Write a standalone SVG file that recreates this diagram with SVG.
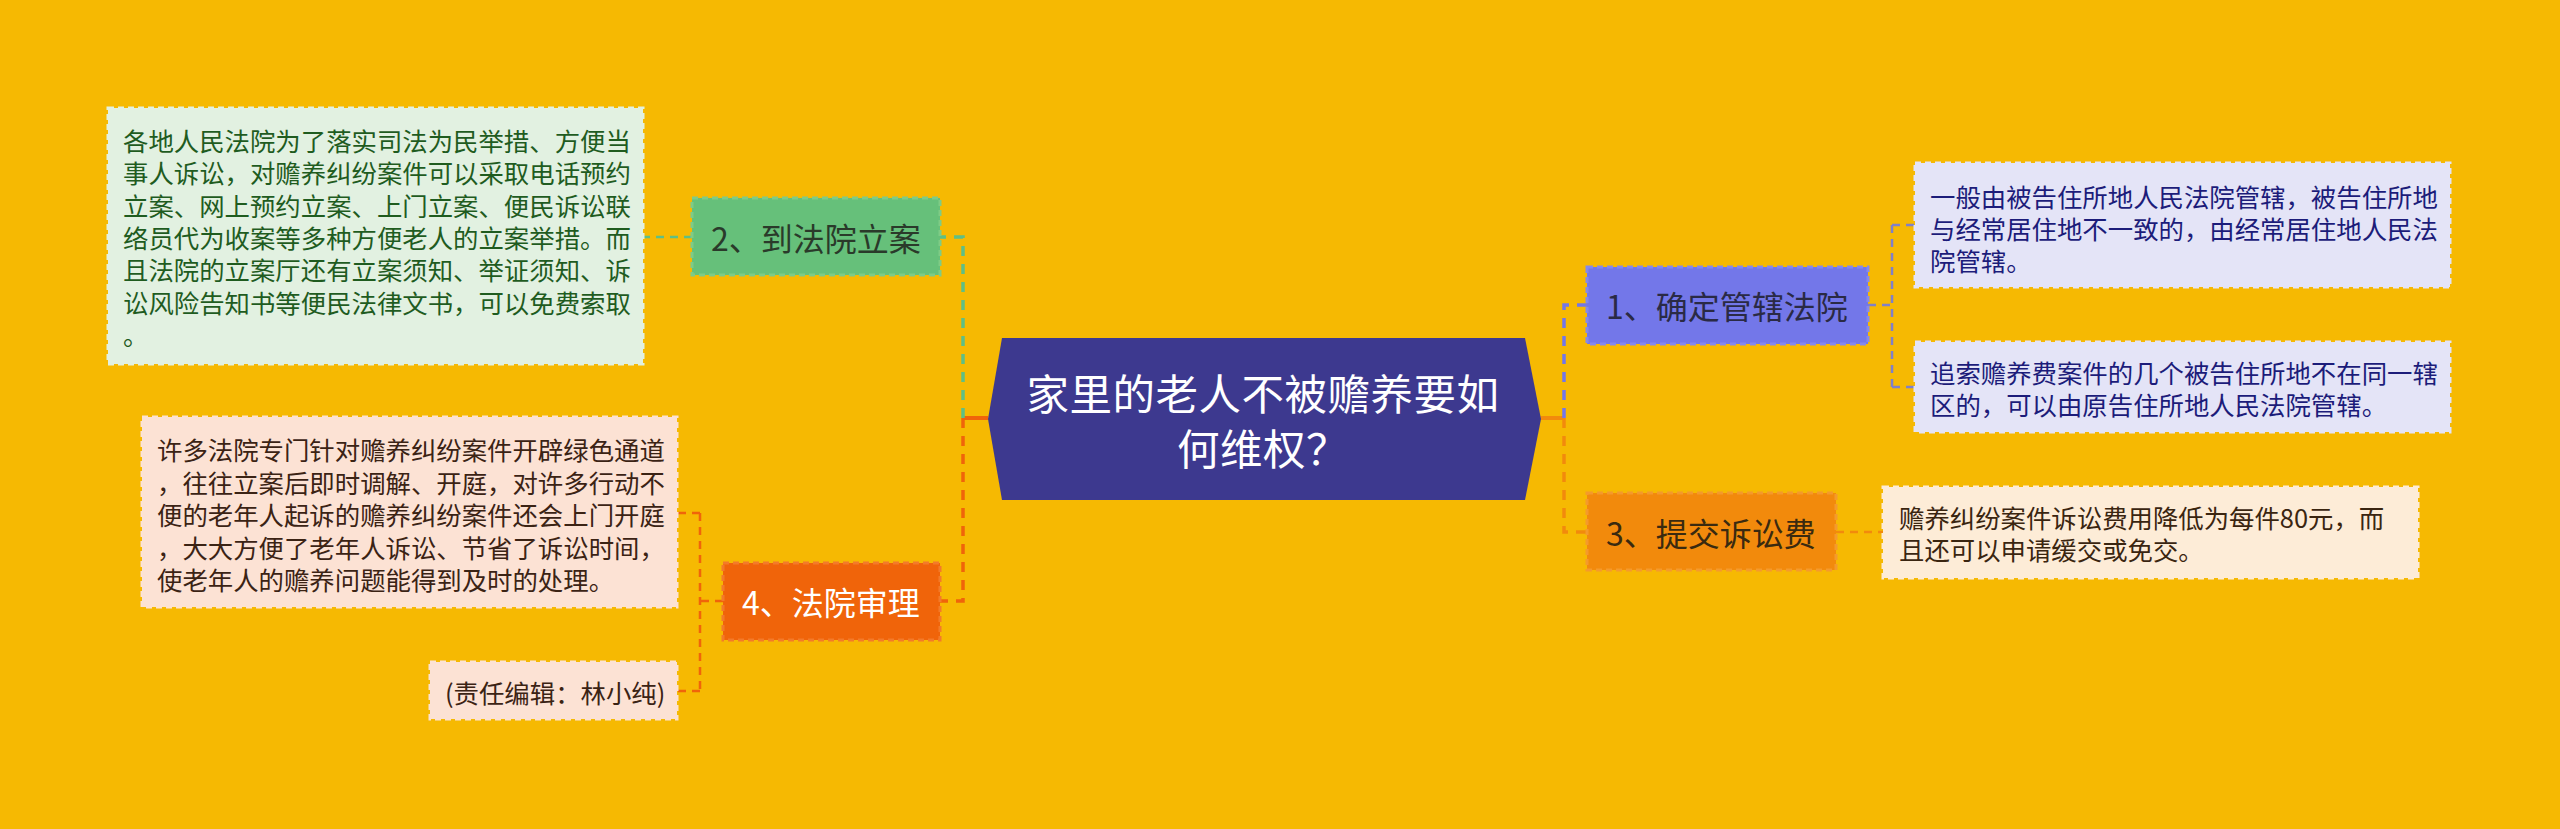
<svg xmlns="http://www.w3.org/2000/svg" width="2560" height="829" viewBox="0 0 2560 829">
<style>
text{font-family:"Noto Sans CJK SC","Noto Sans",sans-serif;dominant-baseline:central}
.box{font-size:25.4px}
.node{font-size:32px;text-anchor:middle}
.c{fill:none;stroke-width:3.5;stroke-dasharray:10 8}
.t{fill:none;stroke-width:2.5;stroke-dasharray:8 6}
.s{fill:none;stroke-width:4}
.bd{stroke-width:3;stroke-dasharray:6 4}
</style>
<rect width="2560" height="829" fill="#F6B902"/>
<g id="connectors">
<path class="s" d="M963,418 H988" stroke="#F0640A"/>
<path class="c" d="M963,418 V237 H940" stroke="#5FBF85"/>
<path class="c" d="M963,418 V601 H940" stroke="#F0640A"/>
<path class="t" d="M692,237 H643" stroke="#5FBF85"/>
<path class="t" d="M723,601 H700 M700,513 V691 M700,513 H677 M700,691 H677" stroke="#F0640A"/>
<path class="s" d="M1541,418 H1564" stroke="#F28A0C"/>
<path class="c" d="M1564,418 V305 H1587" stroke="#7377E9"/>
<path class="c" d="M1564,418 V532 H1587" stroke="#F28A0C"/>
<path class="t" d="M1868,305 H1892 M1892,225 V387 M1892,225 H1915 M1892,387 H1915" stroke="#8080C8"/>
<path class="t" d="M1836,532 H1883" stroke="#F28A0C"/>
</g>
<g id="center">
<polygon points="1002,338 1525,338 1541,419 1525,500 1002,500 988,419" fill="#3D398F"/>
<text x="1263" y="391" font-size="42.5" letter-spacing="0.5" text-anchor="middle" fill="#FFFFFF">家里的老人不被赡养要如</text>
<text x="1263" y="446" font-size="42.5" letter-spacing="0.5" text-anchor="middle" fill="#FFFFFF">何维权？</text>
</g>
<g id="node2">
<rect x="692" y="198" width="248" height="77" fill="#66C07A" stroke="#7FCB86" class="bd"/>
<text class="node" x="816" y="237" fill="#2A3A2A">2、到法院立案</text>
</g>
<g id="node4">
<rect x="723" y="563" width="217" height="77" fill="#F0640A" stroke="#F37A2A" class="bd"/>
<text class="node" x="831" y="601" fill="#FFFFFF">4、法院审理</text>
</g>
<g id="node1">
<rect x="1587" y="267" width="281" height="77" fill="#7377E9" stroke="#8589EC" class="bd"/>
<text class="node" x="1727" y="305" fill="#2A2A45">1、确定管辖法院</text>
</g>
<g id="node3">
<rect x="1587" y="493" width="249" height="77" fill="#F28A0C" stroke="#F49A2C" class="bd"/>
<text class="node" x="1711" y="532" fill="#3A2A10">3、提交诉讼费</text>
</g>
<g id="box1">
<rect x="108" y="108" width="535" height="256" fill="#E2F1E1" stroke="#E2F1E1" class="bd"/>
<g class="box" fill="#1F5C1F">
<text x="123" y="140">各地人民法院为了落实司法为民举措、方便当</text>
<text x="123" y="172">事人诉讼，对赡养纠纷案件可以采取电话预约</text>
<text x="123" y="205">立案、网上预约立案、上门立案、便民诉讼联</text>
<text x="123" y="237">络员代为收案等多种方便老人的立案举措。而</text>
<text x="123" y="269">且法院的立案厅还有立案须知、举证须知、诉</text>
<text x="123" y="302">讼风险告知书等便民法律文书，可以免费索取</text>
<text x="123" y="334">。</text>
</g>
</g>
<g id="box2">
<rect x="142" y="417" width="535" height="190" fill="#FCE2D4" stroke="#FCE2D4" class="bd"/>
<g class="box" fill="#3B2314">
<text x="157" y="449">许多法院专门针对赡养纠纷案件开辟绿色通道</text>
<text x="157" y="482">，往往立案后即时调解、开庭，对许多行动不</text>
<text x="157" y="514">便的老年人起诉的赡养纠纷案件还会上门开庭</text>
<text x="157" y="547">，大大方便了老年人诉讼、节省了诉讼时间，</text>
<text x="157" y="579">使老年人的赡养问题能得到及时的处理。</text>
</g>
</g>
<g id="editor">
<rect x="430" y="662" width="247" height="57" fill="#FCE2D4" stroke="#FCE2D4" class="bd"/>
<text class="box" x="445" y="692" fill="#3B2314">(责任编辑：林小纯)</text>
</g>
<g id="box_r1">
<rect x="1915" y="163" width="535" height="124" fill="#E4E4F7" stroke="#E4E4F7" class="bd"/>
<g class="box" fill="#1C1C7A">
<text x="1930" y="196">一般由被告住所地人民法院管辖，被告住所地</text>
<text x="1930" y="228">与经常居住地不一致的，由经常居住地人民法</text>
<text x="1930" y="260">院管辖。</text>
</g>
</g>
<g id="box_r2">
<rect x="1915" y="342" width="535" height="90" fill="#E4E4F7" stroke="#E4E4F7" class="bd"/>
<g class="box" fill="#1C1C7A">
<text x="1930" y="372">追索赡养费案件的几个被告住所地不在同一辖</text>
<text x="1930" y="404">区的，可以由原告住所地人民法院管辖。</text>
</g>
</g>
<g id="box_r3">
<rect x="1883" y="487" width="535" height="91" fill="#FDECD7" stroke="#FDECD7" class="bd"/>
<g class="box" fill="#3A2510">
<text x="1899" y="517">赡养纠纷案件诉讼费用降低为每件80元，而</text>
<text x="1899" y="549">且还可以申请缓交或免交。</text>
</g>
</g>
</svg>
